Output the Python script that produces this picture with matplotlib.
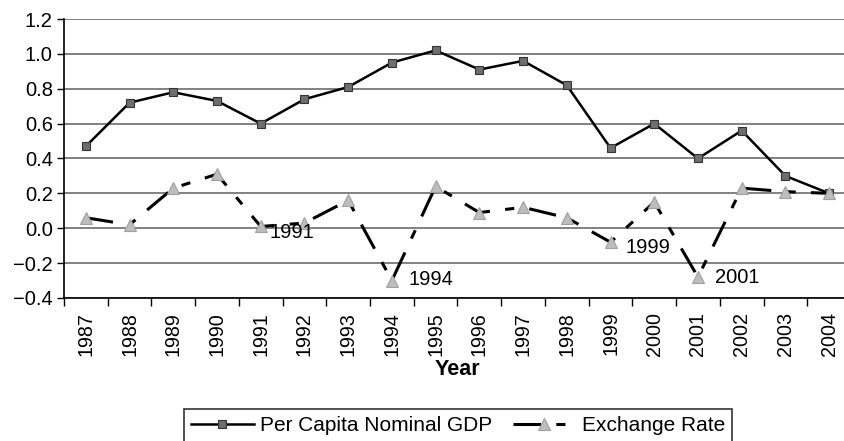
import numpy as np
import matplotlib
matplotlib.use("Agg")
import matplotlib.pyplot as plt

plt.rcParams['font.family'] = ['Liberation Sans', 'DejaVu Sans']

# data
years = [str(y) for y in range(1987, 2005)]
gdp = [0.47, 0.72, 0.78, 0.73, 0.60, 0.74, 0.81, 0.95, 1.02, 0.91,
       0.96, 0.82, 0.46, 0.60, 0.40, 0.56, 0.30, 0.20]
exch = [0.06, 0.02, 0.23, 0.31, 0.01, 0.03, 0.16, -0.30, 0.24, 0.09,
        0.12, 0.06, -0.08, 0.15, -0.28, 0.23, 0.21, 0.20]
labelled = ['1991', '1994', '1999', '2001']
# text offsets (points) of the point labels
label_off = {'1991': (6, -4.5), '1994': (12, 1), '1999': (11, -3.5), '2001': (12, 0)}

fig = plt.figure(figsize=(8.44, 4.41), dpi=100)
ax = fig.add_axes([0.0758, 0.3243, 0.9325, 0.6326])

x = np.arange(len(years))
ax.plot(x, gdp, color='black', lw=1.8, marker='s', ms=5.5,
        mfc='#6e6e6e', mec='#333333', mew=0.8, label='Per Capita Nominal GDP')
ax.plot(x, exch, color='black', lw=2.2, dashes=[9, 5, 3, 5], marker='^', ms=8.5,
        mfc='#bdbdbd', mec='#a0a0a0', mew=0.8, label='Exchange Rate')

for yr in labelled:
    i = years.index(yr)
    ax.annotate(yr, (x[i], exch[i]), xytext=label_off[yr], textcoords='offset points',
                fontsize=14.5, ha='left', va='center')

ax.set_xlim(-0.5, len(years) - 0.5)
ax.set_ylim(-0.4, 1.2)
ax.set_yticks(np.arange(-0.4, 1.21, 0.2))
ax.set_yticklabels([f'{v:.1f}'.replace('-', '\u2212') for v in np.arange(-0.4, 1.21, 0.2)])
ax.set_xticks(x)
ax.set_xticklabels(years, rotation=90)
ax.set_xticks(np.arange(-0.5, len(years), 1), minor=True)
ax.tick_params(axis='x', which='major', length=0, labelsize=14.2, pad=10)
ax.tick_params(axis='x', which='minor', length=6, width=1, direction='out')
ax.tick_params(axis='y', length=5, width=1, labelsize=14.5, pad=3)
ax.grid(axis='y', color='#777777', lw=1.3)
ax.set_axisbelow(True)
for s in ['top', 'right']:
    ax.spines[s].set_visible(False)
ax.spines['left'].set_linewidth(1.2)
ax.spines['bottom'].set_linewidth(1.2)

ax.set_xlabel('Year', fontsize=15.5, fontweight='bold', labelpad=2)

leg = fig.legend(loc='upper center', bbox_to_anchor=(0.5427, 0.0726), ncol=2, fontsize=15,
                 frameon=True, fancybox=False, edgecolor='black', handlelength=3,
                 columnspacing=1.0, borderpad=0.35, handletextpad=0.3, borderaxespad=0)
leg.get_frame().set_linewidth(1.2)

fig.savefig('out.png', dpi=100)
